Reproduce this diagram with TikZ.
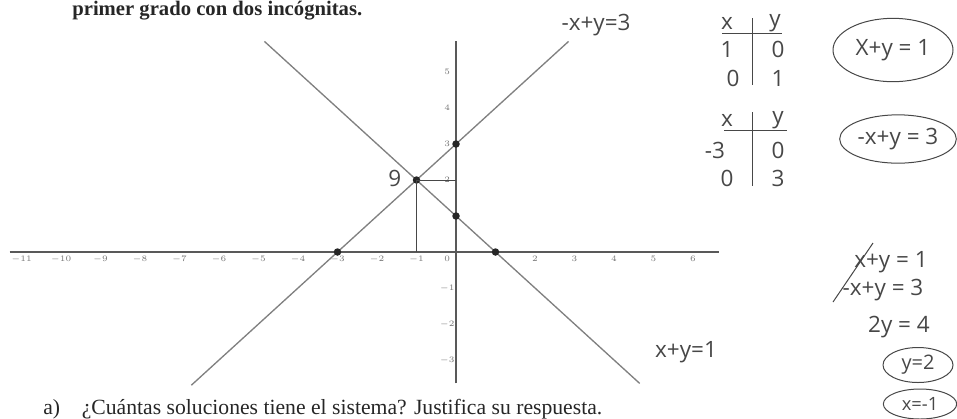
\documentclass[tikz,border=0pt]{standalone}
\usepackage{fontspec}
\setmainfont{Liberation Serif}
\newfontfamily\hand{Open Sans}
\usetikzlibrary{shapes.geometric}

\newcommand\xu{23.7pt}
\newcommand\yu{21.6pt}

\begin{document}
\begin{tikzpicture}[x=0.6pt,y=-0.6pt,
		axis/.style={draw=black!65,line width=.9pt},
		graphline/.style={draw=black!50,line width=.8pt},
		ticklabel/.style={text=black!55,font=\fontsize{4}{4}\selectfont,inner sep=0pt},
		pt/.style={circle,fill=black!85,inner sep=0pt,minimum size=4.5pt},
		hw/.style={text=black!72,font=\hand\fontsize{13.5}{14}\selectfont,inner sep=1pt},
		handoval/.style={hw,ellipse,draw=black!72,line width=.6pt,inner sep=0pt},
		handline/.style={draw=black!72,line width=.6pt}]
		\useasboundingbox (0,0) rectangle (957,418);
		% printed text
		\node(head)[anchor=west,inner sep=0pt,text=black!85,font=\bfseries\fontsize{12.4}{13}\selectfont] at (72,11) {primer grado con dos incógnitas.};
		\node(qa)[anchor=west,inner sep=0pt,text=black!85,font=\fontsize{13}{13}\selectfont] at (43,409) {a)\quad ¿Cuántas soluciones tiene el sistema? Justifica su respuesta.};
		% graph
		\begin{scope}[shift={(456,252)},x=\xu,y=\yu]
			\coordinate(xmin) at (-11.3,0);
			\coordinate(xmax) at (6.65,0);
			\coordinate(ymin) at (0,-3.65);
			\coordinate(ymax) at (0,5.85);
			\draw[axis] (xmin) -- (xmax);
			\draw[axis] (ymin) -- (ymax);
			\foreach \k in {-11,...,-1,2,3,4,5,6} \node(tx\k)[ticklabel] at (\k,-0.2) {$\k$};
			\node(tx0)[ticklabel] at (-0.22,-0.2) {$0$};
			\foreach \k in {-3,-2,-1,2,3,4,5} \node(ty\k)[ticklabel] at (-0.22,\k) {$\k$};
			\coordinate(aS) at (-4.85,5.85);
			\coordinate(aE) at (4.65,-3.65);
			\coordinate(bS) at (-6.7,-3.7);
			\coordinate(bE) at (2.85,5.85);
			\draw[graphline] (aS) -- (aE);
			\draw[graphline] (bS) -- (bE);
			\coordinate(solx) at (-1,0);
			\coordinate(soly) at (0,2);
			\node(sol)[pt] at (-1,2) {};
			\node(cutAx)[pt] at (1,0) {};
			\node(cutAy)[pt] at (0,1) {};
			\node(cutBx)[pt] at (-3,0) {};
			\node(cutBy)[pt] at (0,3) {};
			\draw[handline] (sol.center) -- (solx);
			\draw[handline] (sol.center) -- (soly);
			\node(solmark)[hw] at (-1.55,2.05) {9};
		\end{scope}
		% handwritten labels of the lines
		\node(lblB)[hw] at (596,25) {-x+y=3};
		\node(lblA)[hw] at (686,352) {x+y=1};
		% tables
		\node(tAx)[hw] at (727,23) {x};
		\node(tAy)[hw] at (775,23) {y};
		\node(tA1)[hw] at (727,49) {1};
		\node(tA2)[hw] at (778,49) {0};
		\node(tA3)[hw] at (733,78) {0};
		\node(tA4)[hw] at (778,78) {1};
		\draw[handline] (722,33) -- (782,33);
		\draw[handline] (752,18) -- (752,85);
		\node(tBx)[hw] at (727,120) {x};
		\node(tBy)[hw] at (778,120) {y};
		\node(tB1)[hw] at (715,150) {-3};
		\node(tB2)[hw] at (778,150) {0};
		\node(tB3)[hw] at (727,178) {0};
		\node(tB4)[hw] at (778,178) {3};
		\draw[handline] (724,130) -- (787,130);
		\draw[handline] (752,112) -- (752,186);
		% circled equations
		\node(ovA)[handoval,minimum width=72pt,minimum height=38pt] at (893,50) {X+y = 1};
		\node(ovB)[handoval,minimum width=70pt,minimum height=29pt] at (898,139) {-x+y = 3};
		% solving
		\node(stepA)[hw] at (891,262) {x+y = 1};
		\node(stepB)[hw] at (883,290) {-x+y = 3};
		\draw[handline] (833,302) -- (873,243);
		\node(stepC)[hw] at (899,327) {2y = 4};
		\node(ovC)[handoval,font=\hand\fontsize{12}{12}\selectfont,minimum width=42pt,minimum height=21pt] at (918,365) {y=2};
		\node(ovD)[handoval,font=\hand\fontsize{11}{11}\selectfont,minimum width=44pt,minimum height=18pt] at (920,404) {x=-1};
	\end{tikzpicture}
\end{document}
